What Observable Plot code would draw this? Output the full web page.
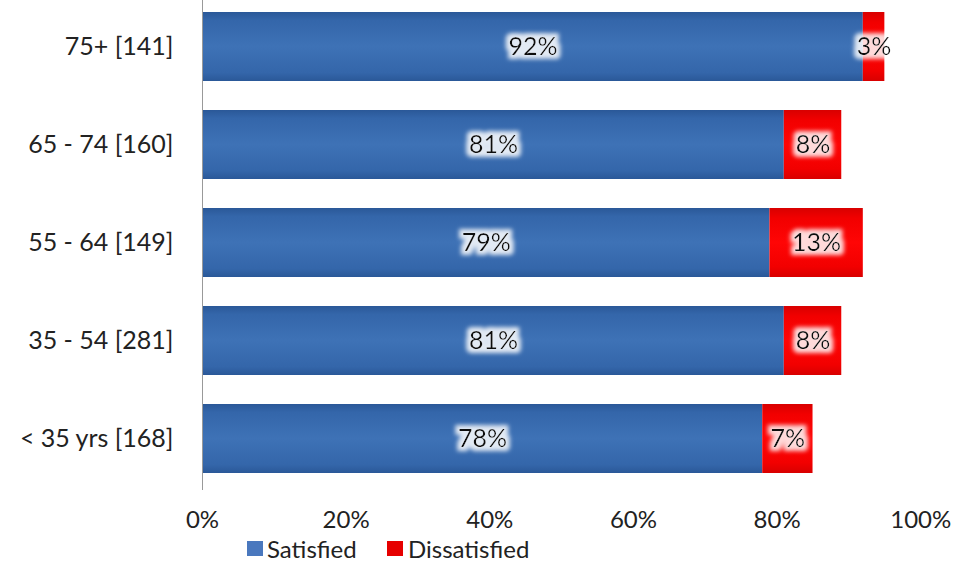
<!DOCTYPE html>
<html><head><meta charset="utf-8">
<script src="https://cdn.jsdelivr.net/npm/d3@7"></script>
<script src="https://cdn.jsdelivr.net/npm/@observablehq/plot@0.6"></script>
<style>
body{margin:0;background:#fff;font-family:Lato,"Open Sans",sans-serif;}
#legend{position:relative;height:27px;font-size:24px;color:#222;}
#legend span.sw{position:absolute;width:16px;height:15px;top:6px;}
#legend span.lb{position:absolute;top:0;line-height:27px;}
</style></head>
<body>
<div id="chart"></div>
<div id="legend">
<span class="sw" style="left:247px;background:#4a78be"></span><span class="lb" style="left:267px">Satisfied</span>
<span class="sw" style="left:387px;background:#e60000"></span><span class="lb" style="left:408px">Dissatisfied</span>
</div>
<script>
const groups = ["75+ [141]", "65 - 74 [160]", "55 - 64 [149]", "35 - 54 [281]", "< 35 yrs [168]"];
const satisfied = [92, 81, 79, 81, 78];
const dissatisfied = [3, 8, 13, 8, 7];
const seriesNames = ["Satisfied", "Dissatisfied"];
const xTicks = [0, 0.2, 0.4, 0.6, 0.8, 1.0];

const data = [];
groups.forEach((g, i) => {
  data.push({group: g, type: "Satisfied", value: satisfied[i] / 100});
  data.push({group: g, type: "Dissatisfied", value: dissatisfied[i] / 100});
});

const chart = Plot.plot({
  width: 961,
  height: 535,
  marginLeft: 202,
  marginRight: 12,
  marginTop: 0,
  marginBottom: 45,
  style: {fontFamily: "Lato, 'Open Sans', sans-serif", fontSize: "24px", color: "#222", background: "#fff"},
  x: {domain: [0, 1.04], ticks: xTicks, tickFormat: d3.format(".0%"), tickSize: 0, tickPadding: 20, label: null},
  y: {domain: groups, paddingInner: 0.3, paddingOuter: 0.15, range: [-3, 487], tickSize: 0, tickPadding: 29, label: null},
  color: {domain: seriesNames, range: ["url(#gBlue)", "url(#gRed)"]},
  marks: [
    Plot.barX(data, Plot.stackX({x: "value", y: "group", fill: "type", z: "type", order: seriesNames})),
    Plot.text(data, Plot.stackX({
      x: "value", y: "group", z: "type", order: seriesNames,
      text: d => Math.round(d.value * 100) + "%",
      fill: "#111",
      fontSize: 25, fontFamily: "Lato, sans-serif"
    })),
    Plot.ruleX([0], {stroke: "#999"}),
    Plot.ruleY([0], {x1: 0, x2: 1.04, stroke: "#888", dy: 490})
  ]
});

const svgNS = "http://www.w3.org/2000/svg";
const defs = document.createElementNS(svgNS, "defs");
defs.innerHTML = `
<linearGradient id="gBlue" x1="0" y1="0" x2="0" y2="1">
  <stop offset="0" stop-color="#2a5898"/>
  <stop offset="0.12" stop-color="#3466aa"/>
  <stop offset="0.5" stop-color="#3e72b6"/>
  <stop offset="0.88" stop-color="#3466aa"/>
  <stop offset="1" stop-color="#2a5898"/>
</linearGradient>
<linearGradient id="gRed" x1="0" y1="0" x2="0" y2="1">
  <stop offset="0" stop-color="#d80000"/>
  <stop offset="0.15" stop-color="#f20000"/>
  <stop offset="0.5" stop-color="#ff0505"/>
  <stop offset="0.85" stop-color="#f20000"/>
  <stop offset="1" stop-color="#d80000"/>
</linearGradient>
<filter id="glow" x="-30%" y="-40%" width="160%" height="180%">
  <feMorphology in="SourceAlpha" operator="dilate" radius="4" result="d"/>
  <feFlood flood-color="#ffffff" flood-opacity="0.85"/>
  <feComposite in2="d" operator="in" result="w"/>
  <feGaussianBlur in="w" stdDeviation="2.2" result="b"/>
  <feMerge><feMergeNode in="b"/><feMergeNode in="SourceGraphic"/></feMerge>
</filter>`;
chart.insertBefore(defs, chart.firstChild);

chart.querySelectorAll("text").forEach(t => {
  const g = t.closest("g[aria-label]");
  const lab = g ? g.getAttribute("aria-label") : "";
  if (lab.includes("y-axis")) t.setAttribute("font-size", "25");
  if (!lab.includes("axis") && /^\d+%$/.test(t.textContent)) t.setAttribute("filter", "url(#glow)");
});
document.getElementById("chart").appendChild(chart);
</script>
</body></html>
